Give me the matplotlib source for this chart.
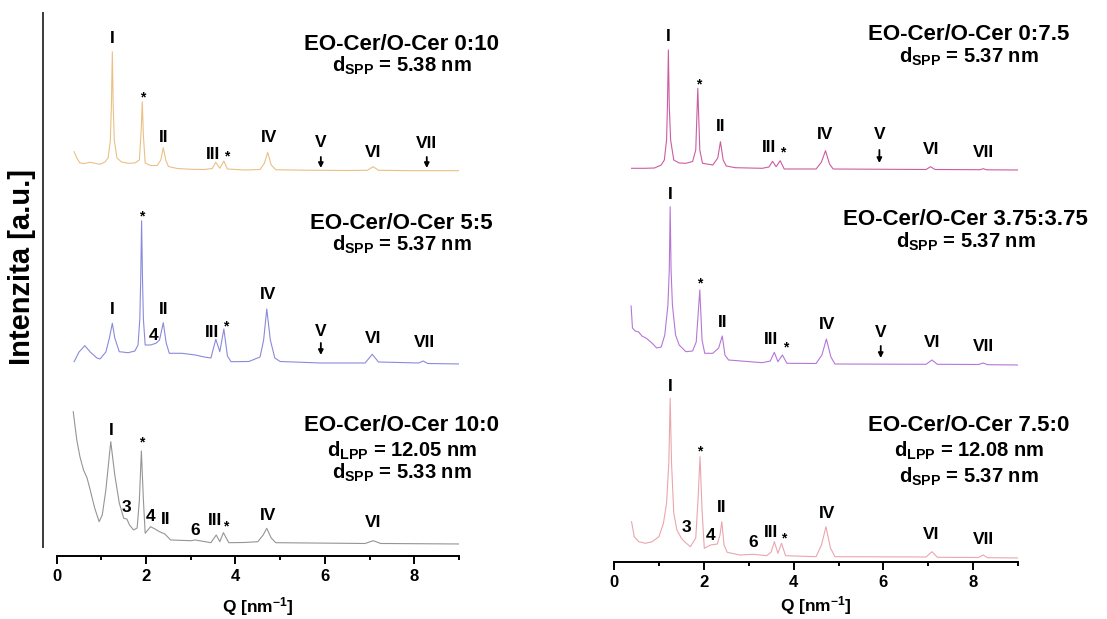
import matplotlib
matplotlib.use('Agg')
import matplotlib.pyplot as plt

# SAXS krivky EO-Cer/O-Cer, intenzita v a.u.
q_0_10 = [0.39, 0.45, 0.52, 0.62, 0.75, 0.88, 0.97, 1.08, 1.15, 1.2, 1.225, 1.245, 1.265, 1.29, 1.35, 1.45,
          1.6, 1.75, 1.85, 1.89, 1.915, 1.94, 1.98, 2.1, 2.25, 2.33, 2.385, 2.44, 2.5, 2.7, 3.0, 3.3,
          3.48, 3.56, 3.65, 3.74, 3.82, 4.2, 4.55, 4.65, 4.72, 4.8, 4.9, 5.5, 6.5, 6.95, 7.08, 7.2,
          8.0, 9.04]
i_0_10 = [19, 12.7, 7.7, 7.2, 8.4, 7.2, 6.4, 8.7, 12.7, 30, 66, 119, 64, 30, 12.7, 8.7,
          7.4, 7.7, 10.7, 40, 69, 35, 7.7, 5.2, 5.2, 10.7, 23, 10.7, 4.2, 2.2, 1.4, 1.2,
          2.2, 8.4, 2.4, 9.7, 1.7, 0.7, 1.2, 7.7, 18.4, 5.7, 1.0, 0.5, 0.2, 0.4, 4.0, 0.4,
          0, 0]

q_5_5 = [0.39, 0.5, 0.63, 0.75, 0.9, 0.97, 1.1, 1.18, 1.245, 1.3, 1.4, 1.6, 1.75, 1.82, 1.86, 1.88,
         1.9, 1.92, 1.94, 1.98, 2.1, 2.22, 2.3, 2.385, 2.45, 2.52, 2.8, 3.1, 3.3, 3.45, 3.56, 3.65,
         3.74, 3.82, 3.9, 4.3, 4.55, 4.63, 4.7, 4.78, 4.88, 5.0, 5.9, 6.9, 7.06, 7.2, 8.1, 8.2,
         8.3, 9.04]
i_5_5 = [2.3, 12, 18.3, 12, 6, 5, 12, 26, 40.7, 26, 12.3, 11.3, 13, 19, 45, 85,
         143.3, 85, 45, 19, 19, 20.7, 24, 41.3, 21, 10.7, 10.7, 9, 7, 6, 24.7, 12.3,
         35, 8, 2.3, 2.5, 7, 24, 55, 24, 6, 2.5, 1, 1, 9.7, 2, 1, 3,
         0.5, 0]

q_10_0 = [0.37, 0.45, 0.52, 0.6, 0.68, 0.75, 0.85, 0.95, 1.02, 1.1, 1.21, 1.3, 1.4, 1.5, 1.57, 1.63,
          1.72, 1.8, 1.85, 1.895, 1.94, 1.98, 2.1, 2.2, 2.3, 2.42, 2.55, 3.0, 3.1, 3.45, 3.57, 3.65,
          3.73, 3.85, 4.2, 4.5, 4.62, 4.7, 4.8, 4.9, 6.9, 7.08, 7.25, 9.04]
i_10_0 = [132.3, 104, 87.3, 74, 66, 54, 36, 22.3, 29, 54, 102.3, 69, 41, 25.7, 25, 19,
          14, 16, 44, 93, 44, 10.7, 17.3, 15, 12.3, 10, 4, 3.3, 4, 1.3, 9, 2.3,
          11.3, 1.3, 1.5, 2.3, 9, 15.7, 6, 1.3, 0.5, 3.3, 0.5, 0]

q_0_75 = [0.39, 0.7, 0.9, 1.05, 1.12, 1.17, 1.19, 1.21, 1.23, 1.26, 1.33, 1.45, 1.6, 1.75, 1.82, 1.865,
          1.91, 1.97, 2.2, 2.31, 2.37, 2.43, 2.5, 2.7, 3.3, 3.45, 3.53, 3.61, 3.7, 3.79, 4.5, 4.62,
          4.71, 4.8, 4.88, 6.95, 7.05, 7.15, 8.15, 8.22, 8.3, 9.04]
i_0_75 = [1.7, 1.7, 2, 5, 10, 30, 66, 120, 64, 30, 10, 7, 6.7, 8.5, 20, 81.7,
          20, 6.7, 5, 12, 28.3, 10, 4, 2.3, 1.7, 3, 8.7, 3.3, 9.3, 1, 1, 8,
          19.3, 6, 1, 0.5, 3.3, 0.5, 0.3, 1.3, 0.2, 0]

q_375_375 = [0.38, 0.41, 0.47, 0.55, 0.62, 0.72, 0.85, 0.95, 1.05, 1.13, 1.2, 1.23, 1.25, 1.27, 1.3, 1.37,
             1.45, 1.6, 1.75, 1.83, 1.91, 1.96, 2.02, 2.2, 2.33, 2.41, 2.47, 2.55, 3.3, 3.48, 3.57, 3.65,
             3.75, 3.85, 4.5, 4.63, 4.73, 4.83, 4.92, 6.95, 7.08, 7.2, 8.12, 8.22, 8.32, 9.04]
i_375_375 = [59, 37, 34, 33, 29, 26.7, 21.7, 17, 18, 30, 60, 95, 158.3, 95, 60, 30,
             20, 13.3, 14, 23, 75, 25, 11.7, 11.7, 17, 29, 10, 5, 2.3, 4, 12.7, 3.3,
             10, 1.7, 1.5, 10, 26, 8, 1, 0.7, 5, 0.7, 0.5, 2, 0.3, 0]

q_75_0 = [0.39, 0.45, 0.55, 0.7, 0.85, 1.0, 1.1, 1.17, 1.22, 1.25, 1.28, 1.33, 1.4, 1.5, 1.57, 1.7,
          1.82, 1.87, 1.915, 1.96, 2.01, 2.15, 2.3, 2.36, 2.4, 2.45, 2.52, 2.8, 3.1, 3.4, 3.5, 3.57,
          3.65, 3.73, 3.82, 4.5, 4.62, 4.72, 4.82, 4.92, 6.95, 7.08, 7.2, 8.12, 8.22, 8.32, 9.04]
i_75_0 = [36.3, 21.3, 16.3, 14.7, 16.3, 21.3, 34.7, 55, 95, 159.7, 95, 45, 28, 19.7, 16.3, 11.3,
          20, 58, 101.3, 48, 9.7, 13, 14, 23, 36.3, 13, 5.7, 3, 3.7, 2.3, 6, 16.3,
          4.7, 14.7, 2.3, 1.3, 13, 31.3, 10, 1.3, 1, 6.3, 0.7, 0.5, 3, 0.3, 0]

ratios_left = ['0:10', '5:5', '10:0']
ratios_right = ['0:7.5', '3.75:3.75', '7.5:0']
d_spp_left = ['5.38', '5.37', '5.33']
d_spp_right = ['5.37', '5.37', '5.37']
d_lpp_left = [None, None, '12.05']
d_lpp_right = [None, None, '12.08']

colors_left = ['#EBC083', '#8A8ADC', '#959595']
colors_right = ['#CC5CA2', '#B676D8', '#EAA6AE']

# popisky piku: (text, q, vyska)
labels_left = [
    [('I', 1.244, 517), ('*', 1.915, 463), ('II', 2.40, 418), ('III', 3.49, 401), ('*', 3.80, 404),
     ('IV', 4.76, 418), ('V', 5.91, 413), ('VI', 7.08, 403), ('VII', 8.28, 412)],
    [('I', 1.244, 246), ('*', 1.90, 344), ('4', 2.16, 220), ('II', 2.385, 246), ('III', 3.48, 223),
     ('*', 3.78, 234), ('IV', 4.72, 261), ('V', 5.91, 224), ('VI', 7.07, 217), ('VII', 8.22, 213)],
    [('I', 1.21, 125), ('*', 1.90, 118), ('3', 1.566, 48), ('4', 2.11, 39), ('II', 2.44, 36),
     ('6', 3.09, 25), ('III', 3.54, 35), ('*', 3.78, 34), ('IV', 4.72, 40), ('VI', 7.07, 33)],
]
labels_right = [
    [('I', 1.21, 525), ('*', 1.88, 482), ('II', 2.38, 435), ('III', 3.46, 414), ('*', 3.76, 414),
     ('IV', 4.71, 427), ('V', 5.91, 427), ('VI', 7.06, 412), ('VII', 8.22, 409)],
    [('I', 1.26, 367), ('*', 1.915, 283), ('II', 2.41, 239), ('III', 3.50, 222), ('*', 3.83, 219),
     ('IV', 4.74, 237), ('V', 5.94, 229), ('VI', 7.09, 219), ('VII', 8.22, 215)],
    [('I', 1.26, 175), ('*', 1.915, 115), ('3', 1.62, 34), ('4', 2.14, 26), ('II', 2.40, 54),
     ('6', 3.10, 19), ('III', 3.50, 29), ('*', 3.77, 28), ('IV', 4.74, 48), ('VI', 7.06, 27), ('VII', 8.22, 22)],
]
# sipky (q, od, do)
arrows_left = [[(5.91, 399, 388), (8.28, 399, 388)], [(5.91, 213, 201)], []]
arrows_right = [[(5.91, 412, 399)], [(5.94, 216, 204)], []]

plt.rcParams['font.family'] = ['Liberation Sans', 'DejaVu Sans']
plt.rcParams['font.weight'] = 'bold'
plt.rcParams['mathtext.fontset'] = 'custom'
plt.rcParams['mathtext.rm'] = 'Liberation Sans:bold'
plt.rcParams['mathtext.bf'] = 'Liberation Sans:bold'
plt.rcParams['mathtext.it'] = 'Liberation Sans:bold'
plt.rcParams['mathtext.default'] = 'bf'

fig = plt.figure(figsize=(11.07, 6.19), dpi=100)
ax_l = fig.add_axes([0.0512, 0.1018, 0.3634, 0.8982])
ax_r = fig.add_axes([0.5547, 0.0921, 0.3650, 0.9079])


def draw_panel(ax, curves, offsets, colors, labels, arrows, ratios, d_spp, d_lpp, title_x, title_y, ytop):
    for (q, inten), off, c in zip(curves, offsets, colors):
        ax.plot(q, [v + off for v in inten], color=c, lw=0.8)
    for lab in labels:
        for t, x, y in lab:
            if t == '*':
                ax.text(x, y - 4, t, ha='center', va='center', fontsize=10, fontweight='bold')
            else:
                ax.text(x, y, t, ha='center', va='center', fontsize=12.5, fontweight='bold')
    for arr in arrows:
        for x, y0, y1 in arr:
            ax.annotate('', xy=(x, y1), xytext=(x, y0),
                        arrowprops=dict(arrowstyle='-|>', color='black', lw=1.3, mutation_scale=7,
                                        shrinkA=0, shrinkB=0))
    for k in range(3):
        ys = title_y[k]
        ax.text(title_x[k], ys[0], 'EO-Cer/O-Cer ' + ratios[k], ha='center', va='baseline',
                fontsize=16, fontweight='bold')
        j = 1
        if d_lpp[k] is not None:
            ax.text(title_x[k], ys[j], r'd$_{LPP}$ = ' + d_lpp[k] + ' nm', ha='center', va='baseline',
                    fontsize=14.5, fontweight='bold')
            j += 1
        ax.text(title_x[k], ys[j], r'd$_{SPP}$ = ' + d_spp[k] + ' nm', ha='center', va='baseline',
                fontsize=14.5, fontweight='bold')

    ax.set_xlim(0, 9)
    ax.set_ylim(0, ytop)
    ax.set_xticks([0, 2, 4, 6, 8])
    ax.set_xticks([1, 3, 5, 7, 9], minor=True)
    ax.set_yticks([])
    ax.tick_params(axis='x', which='major', direction='out', length=5.5, width=1.4, labelsize=12, pad=4)
    ax.tick_params(axis='x', which='minor', direction='out', length=3, width=1.4)
    for lbl in ax.get_xticklabels():
        lbl.set_fontweight('bold')
    ax.spines['top'].set_visible(False)
    ax.spines['right'].set_visible(False)
    ax.spines['bottom'].set_linewidth(1.4)
    ax.set_xlabel(r'Q [nm$^{-1}$]', fontsize=12.5, fontweight='bold')
    ax.patch.set_alpha(0)


draw_panel(ax_l, [(q_0_10, i_0_10), (q_5_5, i_5_5), (q_10_0, i_10_0)], [385.3, 192, 12], colors_left,
           labels_left, arrows_left, ratios_left, d_spp_left, d_lpp_left, [7.72, 7.72, 7.72],
           [(506, 484), (326.5, 305), (125, 99.5, 77)], 556)
draw_panel(ax_r, [(q_0_75, i_0_75), (q_375_375, i_375_375), (q_75_0, i_75_0)], [392, 197, 4], colors_right,
           labels_right, arrows_right, ratios_right, d_spp_right, d_lpp_right, [7.9, 7.83, 7.9],
           [(521.5, 499.5), (336.5, 314.5), (130.5, 105, 79)], 562)

ax_l.spines['left'].set_position(('outward', 9.9))
ax_l.spines['left'].set_bounds(9, 543)
ax_l.spines['left'].set_linewidth(1.4)
ax_l.spines['left'].set_color('#3a3a3a')
ax_r.spines['left'].set_visible(False)
ax_l.xaxis.set_label_coords(0.5, -0.07)
ax_r.xaxis.set_label_coords(0.5, -0.058)

fig.text(0.02, 0.568, 'Intenzita [a.u.]', rotation=90, ha='center', va='center', fontsize=21, fontweight='bold')

fig.savefig('out.png', dpi=100)
